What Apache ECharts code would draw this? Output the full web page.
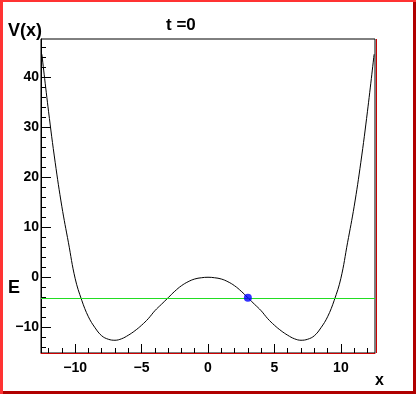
<!DOCTYPE html>
<html>
<head>
<meta charset="utf-8">
<script src="https://cdn.jsdelivr.net/npm/echarts@6/dist/echarts.min.js"></script>
<style>
html,body{margin:0;padding:0;background:#fff;}
#c{width:418px;height:394px;}
</style>
</head>
<body>
<div id="c"></div>
<script>
// Potential curve V(x)
const xValues = [-12.5,-12,-11.5,-11,-10.5,-10,-9.5,-9,-8.5,-8,-7.5,-7,-6.5,-6,-5.5,-5,-4.5,-4,-3.5,-3,-2.5,-2,-1.5,-1,-0.5,0,
                 0.5,1,1.5,2,2.5,3,3.5,4,4.5,5,5.5,6,6.5,7,7.5,8,8.5,9,9.5,10,10.5,11,11.5,12,12.5];
const vValues = [44.6,33.2,23.0,14.2,6.9,-0.2,-4.6,-7.9,-10.1,-11.7,-12.4,-12.6,-12.3,-11.6,-10.7,-9.6,-8.3,-6.7,-5.4,-4.1,-2.8,-1.7,-0.9,-0.35,-0.1,0,
                 -0.1,-0.35,-0.9,-1.7,-2.8,-4.1,-5.4,-6.7,-8.3,-9.6,-10.7,-11.6,-12.3,-12.6,-12.4,-11.7,-10.1,-7.9,-4.6,-0.2,6.9,14.2,23.0,33.2,44.6];
const energyE = -4.1;
const particle = [3, -4.1];
const xRange = [-12.566, 12.566];
const yRange = [-15.15, 47.65];
const xMajor = [-10,-5,0,5,10];
const xMinor = [-12,-11,-9,-8,-7,-6,-4,-3,-2,-1,1,2,3,4,6,7,8,9,11,12];
const yMajor = [-10,0,10,20,30,40];
const yMinor = [-14,-12,-8,-6,-4,-2,2,4,6,8,12,14,16,18,22,24,26,28,32,34,36,38,42,44,46];
const titleText = 't =0';
const yTitle = 'V(x)';
const xTitle = 'x';
const eLabel = 'E';

const curve = xValues.map((x,i)=>[x, vValues[i]]);
const fmt = v => String(v).replace('-', '\u2212');
const labelFont = {fontFamily:'Liberation Sans, Arial, sans-serif', fontSize:14, fontWeight:'bold', color:'#000'};

const chart = echarts.init(document.getElementById('c'), null, {renderer:'canvas'});
chart.setOption({
  backgroundColor:'#fff',
  animation:false,
  grid:{left:41, right:43, top:39, bottom:41, show:true, borderColor:'#000', borderWidth:1, backgroundColor:'transparent'},
  xAxis:[
    {type:'value', min:xRange[0], max:xRange[1], position:'bottom',
     axisLine:{show:true, onZero:false, lineStyle:{color:'#cc0000', width:1}},
     axisTick:{show:true, inside:true, length:9, customValues:xMajor, lineStyle:{color:'#000'}},
     axisLabel:{show:true, customValues:xMajor, margin:8, formatter:fmt, ...labelFont},
     splitLine:{show:false}},
    {type:'value', min:xRange[0], max:xRange[1], position:'bottom',
     axisLine:{show:false, onZero:false},
     axisTick:{show:true, inside:true, length:5, customValues:xMinor, lineStyle:{color:'#000'}},
     axisLabel:{show:false}, splitLine:{show:false}}
  ],
  yAxis:[
    {type:'value', min:yRange[0], max:yRange[1], position:'left',
     axisLine:{show:true, onZero:false, lineStyle:{color:'#000', width:1}},
     axisTick:{show:true, inside:true, length:10, customValues:yMajor, lineStyle:{color:'#000'}},
     axisLabel:{show:true, customValues:yMajor, margin:2, formatter:fmt, ...labelFont},
     splitLine:{show:false}},
    {type:'value', min:yRange[0], max:yRange[1], position:'left',
     axisLine:{show:false, onZero:false},
     axisTick:{show:true, inside:true, length:5, customValues:yMinor, lineStyle:{color:'#000'}},
     axisLabel:{show:false}, splitLine:{show:false}}
  ],
  series:[
    {type:'line', xAxisIndex:0, yAxisIndex:0, data:curve, smooth:0.4, showSymbol:false, symbol:'none',
     lineStyle:{color:'#000', width:1}, z:3,
     markLine:{silent:true, symbol:['none','none'], label:{show:false}, animation:false,
       lineStyle:{color:'#22dd22', width:1, type:'solid'}, data:[{yAxis:energyE}]}},
    {type:'scatter', xAxisIndex:0, yAxisIndex:0, data:[particle], symbol:'circle', symbolSize:8,
     itemStyle:{color:'#0000ff'}, z:5}
  ],
  graphic:[
    {type:'rect', shape:{x:0,y:0,width:3,height:394}, style:{fill:'#ff3333'}, silent:true},
    {type:'rect', shape:{x:0,y:0,width:416,height:2}, style:{fill:'#ff3333'}, silent:true},
    {type:'rect', shape:{x:413,y:2,width:3,height:392}, style:{fill:'#b00000'}, silent:true},
    {type:'rect', shape:{x:3,y:391,width:413,height:3}, style:{fill:'#b00000'}, silent:true},
    {type:'line', shape:{x1:376.5,y1:39,x2:376.5,y2:353}, style:{stroke:'#cc0000', lineWidth:1}, silent:true},
    {type:'text', x:166, y:25, style:{text:titleText, font:'bold 17px "Liberation Sans", Arial, sans-serif', fill:'#000', textVerticalAlign:'middle'}},
    {type:'text', x:8, y:31, style:{text:yTitle, font:'bold 18px "Liberation Sans", Arial, sans-serif', fill:'#000', textVerticalAlign:'middle'}},
    {type:'text', x:8, y:288, style:{text:eLabel, font:'bold 18px "Liberation Sans", Arial, sans-serif', fill:'#000', textVerticalAlign:'middle'}},
    {type:'text', x:375, y:381, style:{text:xTitle, font:'bold 16px "Liberation Sans", Arial, sans-serif', fill:'#000', textVerticalAlign:'middle'}}
  ]
});
</script>
</body>
</html>
